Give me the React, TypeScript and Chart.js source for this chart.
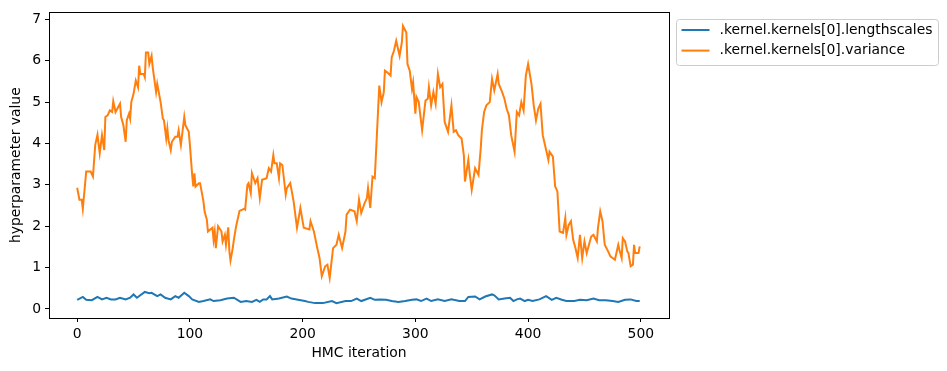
import { useEffect, useRef } from "react";
import { Chart, registerables } from "chart.js";

Chart.register(...registerables);

const seriesLabels = [".kernel.kernels[0].lengthscales", ".kernel.kernels[0].variance"];
const seriesColors = ["#1f77b4", "#ff7f0e"];
const xTickValues = [0, 100, 200, 300, 400, 500];
const yTickValues = [0, 1, 2, 3, 4, 5, 6, 7];

const lengthscaleIter = [0, 5, 8, 13, 18, 22, 26, 30, 34, 38, 43, 47, 50, 53, 60, 64, 66, 71, 74, 78, 83, 87, 90, 95, 99, 102, 108, 112, 118, 121, 127, 133, 139, 145, 150, 155, 159, 162, 165, 168, 171, 173, 179, 186, 190, 196, 202, 205, 211, 218, 226, 230, 238, 243, 248, 252, 260, 264, 269, 274, 279, 285, 291, 297, 301, 305, 310, 314, 320, 326, 332, 339, 344, 347, 353, 357, 362, 368, 370, 374, 379, 384, 387, 390, 393, 397, 400, 404, 410, 416, 421, 425, 430, 434, 441, 446, 452, 458, 463, 469, 475, 480, 486, 491, 496, 499];
const lengthscaleValue = [0.22, 0.29, 0.22, 0.21, 0.29, 0.23, 0.27, 0.23, 0.23, 0.27, 0.23, 0.27, 0.35, 0.27, 0.41, 0.38, 0.39, 0.31, 0.35, 0.27, 0.23, 0.31, 0.27, 0.39, 0.31, 0.23, 0.17, 0.19, 0.23, 0.19, 0.21, 0.25, 0.27, 0.17, 0.19, 0.17, 0.22, 0.17, 0.23, 0.23, 0.31, 0.23, 0.25, 0.3, 0.25, 0.22, 0.19, 0.17, 0.14, 0.14, 0.19, 0.14, 0.19, 0.19, 0.25, 0.19, 0.27, 0.22, 0.23, 0.22, 0.19, 0.17, 0.19, 0.22, 0.23, 0.19, 0.25, 0.19, 0.23, 0.19, 0.23, 0.19, 0.19, 0.29, 0.3, 0.23, 0.3, 0.35, 0.33, 0.23, 0.25, 0.27, 0.19, 0.23, 0.25, 0.19, 0.22, 0.19, 0.23, 0.31, 0.22, 0.27, 0.22, 0.19, 0.19, 0.22, 0.21, 0.25, 0.21, 0.21, 0.19, 0.17, 0.22, 0.23, 0.19, 0.19];

const varianceIter = [0, 2, 4, 5, 8, 12, 14, 16, 18, 20, 22, 24, 25, 27, 29, 31, 32, 34, 38, 39, 41, 43, 44, 46, 47, 48, 50, 52, 54, 55, 56, 59, 60, 61, 63, 64, 66, 67, 70, 71, 74, 76, 77, 79, 80, 81, 83, 84, 87, 89, 90, 92, 95, 96, 99, 100, 102, 103, 104, 105, 108, 109, 112, 113, 115, 116, 120, 121, 122, 123, 125, 128, 129, 131, 132, 134, 135, 136, 138, 139, 141, 144, 148, 149, 151, 152, 154, 155, 158, 160, 162, 164, 168, 170, 172, 174, 175, 177, 179, 180, 182, 185, 186, 189, 192, 195, 198, 201, 206, 207, 210, 213, 215, 217, 220, 222, 224, 227, 230, 232, 235, 238, 239, 242, 246, 248, 250, 252, 255, 257, 258, 260, 262, 264, 266, 268, 270, 272, 273, 275, 278, 279, 281, 283, 286, 288, 289, 292, 293, 295, 297, 298, 300, 301, 303, 306, 309, 311, 312, 314, 316, 318, 320, 322, 324, 326, 329, 332, 334, 336, 338, 341, 343, 344, 347, 348, 350, 353, 356, 358, 359, 361, 363, 366, 368, 370, 373, 374, 377, 379, 381, 383, 385, 388, 390, 392, 394, 396, 398, 400, 403, 405, 407, 409, 411, 413, 416, 418, 419, 422, 424, 426, 428, 431, 433, 434, 436, 438, 440, 442, 444, 446, 448, 450, 452, 454, 456, 458, 461, 462, 464, 466, 468, 471, 473, 475, 477, 480, 481, 483, 484, 486, 488, 489, 491, 493, 494, 495, 498, 499];
const varianceValue = [2.93, 2.64, 2.64, 2.42, 3.32, 3.32, 3.2, 3.96, 4.21, 3.76, 4.2, 3.84, 4.64, 4.68, 4.8, 4.76, 5.02, 4.76, 4.96, 4.64, 4.44, 4.04, 4.56, 4.72, 4.6, 5.0, 5.2, 5.52, 5.36, 5.88, 5.68, 5.68, 5.6, 6.2, 6.2, 5.92, 6.12, 5.84, 5.24, 5.44, 5.0, 4.6, 4.56, 4.12, 4.36, 4.08, 3.84, 4.04, 4.16, 4.16, 4.32, 3.96, 4.64, 4.44, 4.28, 3.96, 3.24, 2.96, 3.28, 2.96, 3.04, 3.04, 2.6, 2.36, 2.16, 1.87, 1.96, 1.67, 1.87, 1.47, 2.0, 1.87, 1.63, 1.79, 1.55, 1.97, 1.39, 1.17, 1.47, 1.67, 2.0, 2.37, 2.42, 2.4, 3.0, 3.04, 2.8, 3.28, 3.04, 3.16, 2.68, 3.12, 3.16, 3.4, 3.32, 3.72, 3.52, 3.52, 3.16, 3.52, 3.48, 2.76, 2.92, 3.04, 2.6, 1.96, 2.44, 1.96, 1.92, 2.12, 1.87, 1.47, 1.23, 0.79, 1.03, 1.07, 0.75, 1.47, 1.55, 1.79, 1.47, 1.87, 2.28, 2.4, 2.36, 2.12, 2.64, 2.32, 2.56, 2.68, 2.92, 2.44, 3.2, 3.16, 4.28, 5.4, 5.0, 5.24, 5.76, 5.72, 5.64, 6.08, 6.24, 6.48, 6.12, 6.44, 6.84, 6.68, 5.92, 5.76, 5.32, 5.48, 4.72, 5.12, 5.0, 4.32, 5.04, 5.08, 5.36, 4.92, 5.24, 4.96, 5.68, 5.36, 5.44, 4.52, 4.28, 4.92, 4.28, 4.32, 4.2, 4.12, 3.72, 3.08, 3.6, 3.32, 2.88, 3.4, 3.24, 3.88, 4.32, 4.76, 4.92, 5.0, 5.56, 5.28, 5.68, 5.44, 5.24, 5.08, 4.84, 4.68, 4.2, 3.8, 4.76, 4.68, 5.0, 4.8, 5.64, 5.92, 5.44, 4.92, 4.56, 4.84, 4.96, 4.2, 3.84, 3.6, 3.8, 3.68, 2.96, 2.84, 1.87, 1.84, 2.2, 1.79, 2.03, 2.12, 1.67, 1.47, 1.23, 1.79, 1.23, 1.63, 1.35, 1.55, 1.75, 1.79, 1.63, 1.96, 2.36, 2.12, 1.55, 1.39, 1.27, 1.23, 1.19, 1.55, 1.43, 1.23, 1.71, 1.63, 1.39, 1.35, 1.03, 1.07, 1.55, 1.35, 1.35, 1.51];

const FONT = "'DejaVu Sans', sans-serif";
const FONT_SIZE = 13.9;

const framePlugin = {
  id: "frameAndLegend",
  afterDraw(chart: any) {
    const { ctx, chartArea } = chart;
    ctx.save();
    ctx.strokeStyle = "#000";
    ctx.lineWidth = 1;
    ctx.strokeRect(
      Math.round(chartArea.left) + 0.5,
      Math.round(chartArea.top) + 0.5,
      Math.round(chartArea.right - chartArea.left),
      Math.round(chartArea.bottom - chartArea.top)
    );
    // legend
    const bx = Math.round(chartArea.right) + 7.5;
    const by = Math.round(chartArea.top) + 7.5;
    const bw = 262;
    const bh = 46;
    const r = 3;
    ctx.beginPath();
    ctx.moveTo(bx + r, by);
    ctx.lineTo(bx + bw - r, by);
    ctx.arcTo(bx + bw, by, bx + bw, by + r, r);
    ctx.lineTo(bx + bw, by + bh - r);
    ctx.arcTo(bx + bw, by + bh, bx + bw - r, by + bh, r);
    ctx.lineTo(bx + r, by + bh);
    ctx.arcTo(bx, by + bh, bx, by + bh - r, r);
    ctx.lineTo(bx, by + r);
    ctx.arcTo(bx, by, bx + r, by, r);
    ctx.closePath();
    ctx.fillStyle = "rgba(255,255,255,0.8)";
    ctx.fill();
    ctx.strokeStyle = "#cccccc";
    ctx.lineWidth = 1;
    ctx.stroke();
    ctx.font = `${FONT_SIZE}px ${FONT}`;
    ctx.textBaseline = "middle";
    ctx.textAlign = "left";
    seriesLabels.forEach((label, i) => {
      const y = by + 10.5 + i * 20.6;
      ctx.strokeStyle = seriesColors[i];
      ctx.lineWidth = 2;
      ctx.beginPath();
      ctx.moveTo(bx + 5, y);
      ctx.lineTo(bx + 33, y);
      ctx.stroke();
      ctx.fillStyle = "#000";
      ctx.fillText(label, bx + 43, y);
    });
    ctx.restore();
  },
};

export default function App() {
  const canvasRef = useRef<HTMLCanvasElement | null>(null);

  useEffect(() => {
    if (!canvasRef.current) return;
    const lengthscaleData = lengthscaleIter.map((x, i) => ({ x, y: lengthscaleValue[i] }));
    const varianceData = varianceIter.map((x, i) => ({ x, y: varianceValue[i] }));
    const chart = new Chart(canvasRef.current, {
      type: "line",
      data: {
        datasets: [
          {
            label: seriesLabels[0],
            data: lengthscaleData,
            borderColor: seriesColors[0],
            backgroundColor: seriesColors[0],
            borderWidth: 2,
            pointRadius: 0,
            tension: 0,
          },
          {
            label: seriesLabels[1],
            data: varianceData,
            borderColor: seriesColors[1],
            backgroundColor: seriesColors[1],
            borderWidth: 2,
            pointRadius: 0,
            tension: 0,
          },
        ],
      },
      options: {
        responsive: false,
        animation: false,
        events: [],
        layout: { padding: { top: 10, right: 278, bottom: 0, left: 0 } },
        plugins: {
          legend: { display: false },
          tooltip: { enabled: false },
        },
        scales: {
          x: {
            type: "linear",
            min: -25,
            max: 525,
            afterFit: (s: any) => {
              s.height = 53;
            },
            afterBuildTicks: (s: any) => {
              s.ticks = xTickValues.map((v) => ({ value: v }));
            },
            grid: { drawOnChartArea: false, color: "#000", tickLength: 4, lineWidth: 1 },
            border: { display: false },
            ticks: {
              padding: 4,
              color: "#000",
              font: { family: FONT, size: FONT_SIZE },
              maxRotation: 0,
              includeBounds: false,
            },
            title: {
              display: true,
              text: "HMC iteration",
              color: "#000",
              font: { family: FONT, size: FONT_SIZE },
              padding: { top: 0, bottom: 9.7 },
            },
          },
          y: {
            type: "linear",
            min: -0.22,
            max: 7.17,
            afterFit: (s: any) => {
              s.width = 49;
            },
            afterBuildTicks: (s: any) => {
              s.ticks = yTickValues.map((v) => ({ value: v }));
            },
            grid: { drawOnChartArea: false, color: "#000", tickLength: 4, lineWidth: 1 },
            border: { display: false },
            ticks: {
              padding: 4,
              color: "#000",
              font: { family: FONT, size: FONT_SIZE },
              includeBounds: false,
            },
            title: {
              display: true,
              text: "hyperparameter value",
              color: "#000",
              font: { family: FONT, size: FONT_SIZE },
              padding: { top: 8, bottom: 0 },
            },
          },
        },
      },
      plugins: [framePlugin],
    });
    return () => chart.destroy();
  }, []);

  return (
    <div style={{ position: "fixed", left: 0, top: 0, width: 947, height: 371, background: "#fff" }}>
      <canvas ref={canvasRef} width={947} height={371} style={{ width: 947, height: 371 }} />
    </div>
  );
}
